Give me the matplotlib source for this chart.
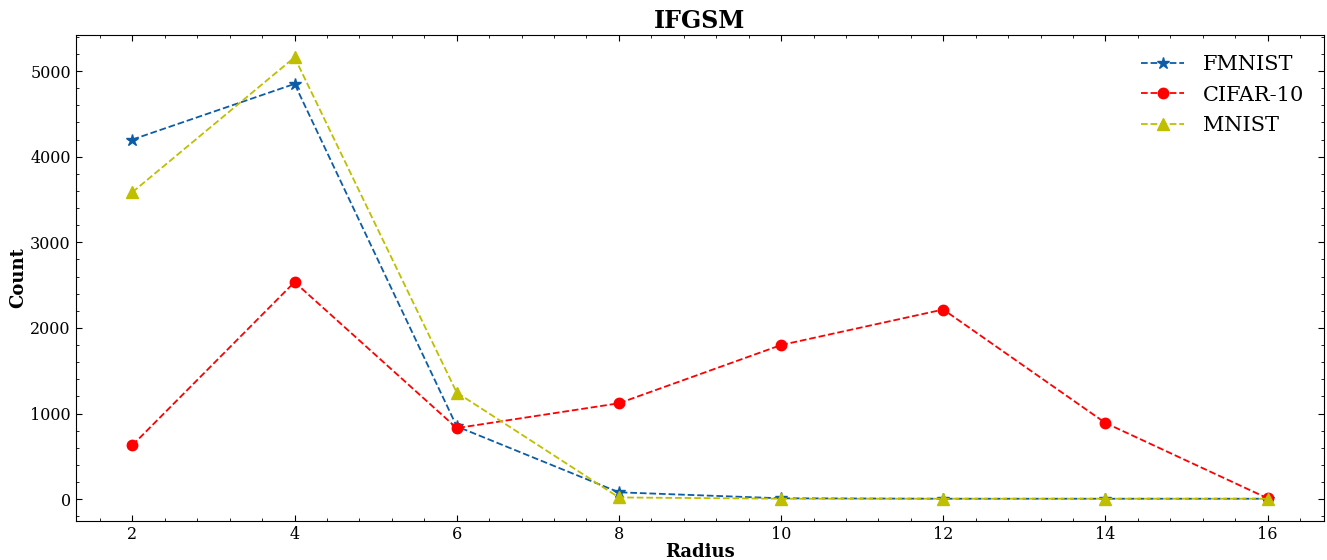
import matplotlib
matplotlib.use("Agg")
import matplotlib.pyplot as plt
from matplotlib.ticker import AutoMinorLocator

radius = [2, 4, 6, 8, 10, 12, 14, 16]
fmnist = [4200, 4850, 850, 80, 10, 5, 5, 5]
cifar10 = [630, 2535, 830, 1120, 1800, 2215, 890, 10]
mnist = [3585, 5160, 1245, 20, 5, 5, 5, 5]

plt.rcParams['font.family'] = ['DejaVu Serif']
plt.rcParams['mathtext.fontset'] = 'dejavuserif'

fig, ax = plt.subplots(figsize=(13.27, 5.6), dpi=100)
fig.subplots_adjust(left=0.057, right=0.998, top=0.937, bottom=0.07)

ax.plot(radius, fmnist, linestyle='--', marker='*', color='#0C5DA5', markersize=9, linewidth=1.3, label='FMNIST')
ax.plot(radius, cifar10, linestyle='--', marker='o', color='#FF0000', markersize=7.5, linewidth=1.3, label='CIFAR-10')
ax.plot(radius, mnist, linestyle='--', marker='^', color='#BFBF00', markersize=8, linewidth=1.3, label='MNIST')

ax.set_title('IFGSM', fontsize=17, fontweight='bold', pad=5)
ax.set_xlabel('Radius', fontsize=13, fontweight='bold', labelpad=0)
ax.set_ylabel('Count', fontsize=13, fontweight='bold', labelpad=2)
ax.set_xticks(radius)
ax.xaxis.set_minor_locator(AutoMinorLocator(5))
ax.yaxis.set_minor_locator(AutoMinorLocator(5))
ax.tick_params(which='both', direction='in', top=True, right=True, labelsize=11.5)
ax.tick_params(which='major', length=4)
ax.tick_params(which='minor', length=2)
ax.legend(fontsize=15, frameon=False, loc='upper right', labelspacing=0.55,
          handlelength=2.1, handletextpad=0.9, borderaxespad=0.55)

fig.savefig('out.png', dpi=100)
